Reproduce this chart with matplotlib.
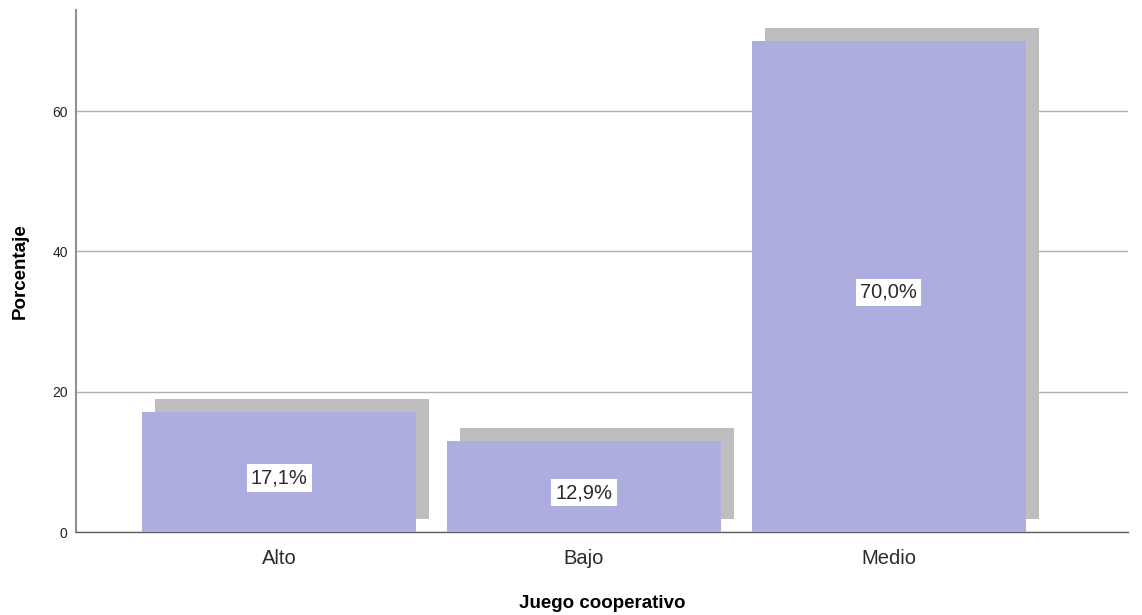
import matplotlib
matplotlib.use("Agg")
import matplotlib.pyplot as plt
from matplotlib.transforms import ScaledTranslation

categories = ["Alto", "Bajo", "Medio"]
percentages = [17.1, 12.9, 70.0]
labels = ["17,1%", "12,9%", "70,0%"]
yticks = [0, 20, 40, 60]

plt.rcParams['font.family'] = ['Liberation Sans', 'DejaVu Sans']

fig = plt.figure(figsize=(11.42, 6.15), dpi=100)
ax = fig.add_axes([76/1142, 1-532/615, (1128-76)/1142, (532-10)/615])

x = list(range(len(categories)))
width = 0.9
# shadow: offset by 13 px right and 13 px up
dx_px, dy_px = 13, 13
shadow_tr = ax.transData + ScaledTranslation(dx_px/100, dy_px/100, fig.dpi_scale_trans)
ax.bar(x, percentages, width=width, color="#bebebe", transform=shadow_tr, zorder=2)
ax.bar(x, percentages, width=width, color="#adade0", zorder=3)

for xi, h, lab in zip(x, percentages, labels):
    ax.annotate(lab, (xi, h/2), xytext=(0, -6), textcoords="offset pixels",
                ha="center", va="center", fontsize=14.5, color="#2a2a2a", zorder=5,
                bbox=dict(boxstyle="square,pad=0.2", fc="white", ec="none"))

ax.set_xlim(-0.666, 2.784)
ax.set_ylim(0, 74.4)
ax.set_yticks(yticks)
ax.set_xticks(x)
ax.set_xticklabels(categories, fontsize=14.5, color="#2a2a2a")
ax.tick_params(axis="y", labelsize=10, length=0, pad=6, colors="#222222")
ax.tick_params(axis="x", length=0, pad=12)
ax.yaxis.grid(True, color="#b0b0b0", linewidth=1)
ax.set_axisbelow(True)
for s in ["top", "right"]:
    ax.spines[s].set_visible(False)
ax.spines["left"].set_color("#909090")
ax.spines["bottom"].set_color("#606060")
ax.spines["left"].set_linewidth(1.5)
ax.spines["bottom"].set_linewidth(1)

ax.set_ylabel("Porcentaje", fontsize=13.5, fontweight="bold", labelpad=17)
ax.set_xlabel("Juego cooperativo", fontsize=13.5, fontweight="bold", labelpad=20)

fig.savefig("out.png", dpi=100)
